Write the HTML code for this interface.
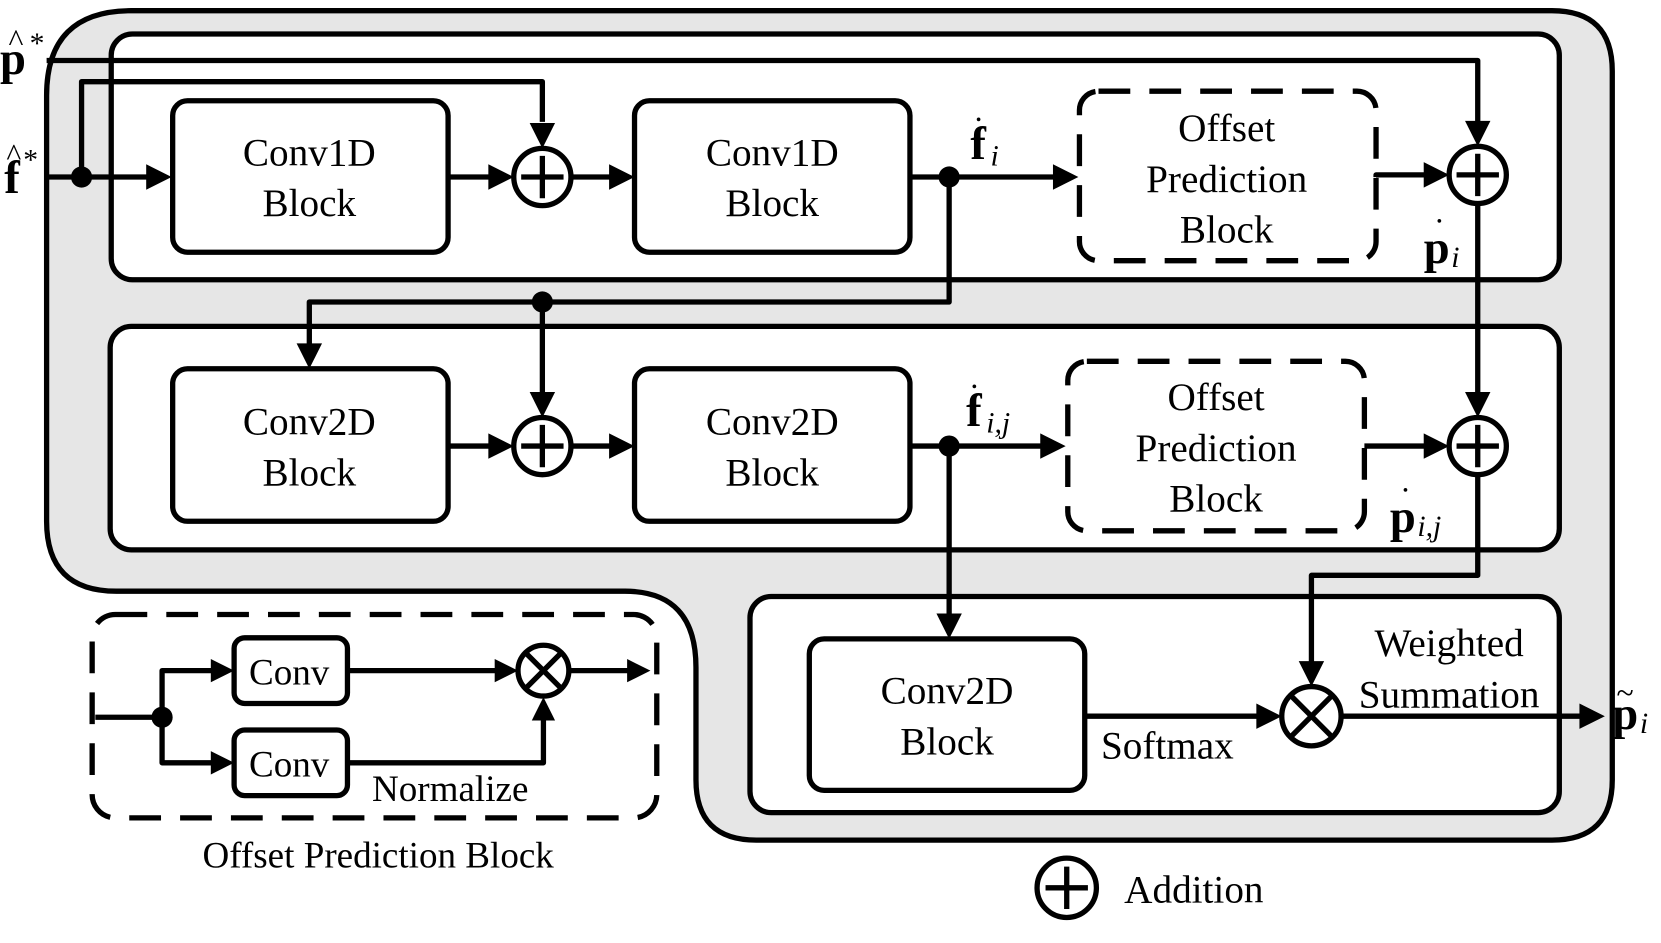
<!DOCTYPE html>
<html><head><meta charset="utf-8"><style>
html,body{margin:0;padding:0;background:#fff;}
svg{display:block}
text{font-family:"Liberation Serif",serif;fill:#000}
</style></head><body>
<svg width="1661" height="943" viewBox="0 0 1568 890" xmlns="http://www.w3.org/2000/svg">
<g stroke="#000" stroke-width="5" fill="none" stroke-linejoin="round">
<path d="M44,90 Q44,10 124,10 H1465 Q1522,10 1522,67 V736 Q1522,793 1465,793 H714 Q657,793 657,736 V630 Q657,558 590,558 H110 Q44,558 44,492 Z" fill="#e6e6e6"/>
<rect x="105" y="32" width="1367" height="232" rx="20" fill="#fff"/>
<rect x="104" y="308" width="1368" height="211" rx="20" fill="#fff"/>
<rect x="708" y="563" width="764" height="204" rx="20" fill="#fff"/>
<rect x="163" y="95" width="260" height="143" rx="14" fill="#fff"/>
<rect x="599" y="95" width="260" height="143" rx="14" fill="#fff"/>
<rect x="163" y="348" width="260" height="144" rx="14" fill="#fff"/>
<rect x="599" y="348" width="260" height="144" rx="14" fill="#fff"/>
<rect x="764" y="603" width="260" height="143" rx="14" fill="#fff"/>
<rect x="1019" y="86" width="280" height="160" rx="18" stroke-dasharray="30,18"/>
<rect x="1008" y="341" width="280" height="160" rx="18" stroke-dasharray="30,18"/>
<rect x="87" y="580" width="533" height="192" rx="22" stroke-dasharray="30,18"/>
<rect x="221" y="602" width="107" height="62" rx="10" fill="#fff"/>
<rect x="221" y="689" width="107" height="62" rx="10" fill="#fff"/>
<polyline points="44,57 1395,57 1395,115"/>
<polyline points="44,167 140,167"/>
<polyline points="77,167 77,77 512,77 512,115"/>
<line x1="423" y1="167" x2="464" y2="167"/>
<line x1="540" y1="167" x2="580" y2="167"/>
<line x1="859" y1="167" x2="998" y2="167"/>
<polyline points="1299,167 1299,165 1347,165"/>
<line x1="1395" y1="193" x2="1395" y2="373"/>
<polyline points="896,167 896,285 292,285 292,328"/>
<line x1="512" y1="285" x2="512" y2="373"/>
<line x1="423" y1="421" x2="464" y2="421"/>
<line x1="540" y1="421" x2="580" y2="421"/>
<line x1="859" y1="421" x2="986" y2="421"/>
<polyline points="1288,421 1347,421"/>
<polyline points="1395,449 1395,543 1238,543 1238,628"/>
<line x1="896" y1="421" x2="896" y2="583"/>
<line x1="1024" y1="676" x2="1190" y2="676"/>
<line x1="1266" y1="676" x2="1495" y2="676"/>
<polyline points="90,677 153,677"/>
<polyline points="153,677 153,633 202,633"/>
<polyline points="153,677 153,720 202,720"/>
<line x1="328" y1="633" x2="468" y2="633"/>
<line x1="538" y1="633" x2="594" y2="633"/>
<polyline points="328,720 513,720 513,678"/>
<circle cx="512" cy="167" r="27" fill="#fff"/>
<circle cx="1395" cy="165" r="27" fill="#fff"/>
<circle cx="512" cy="421" r="27" fill="#fff"/>
<circle cx="1395" cy="421" r="27" fill="#fff"/>
<circle cx="1238" cy="676" r="28" fill="#fff"/>
<circle cx="513" cy="633" r="24" fill="#fff"/>
<circle cx="1007" cy="838" r="28" fill="#fff"/>
<path d="M512,147V187M492,167H532 M1395,145V185M1375,165H1415 M512,401V441M492,421H532 M1395,401V441M1375,421H1415 M1007,818V858M987,838H1027"/>
<path d="M1218,656L1258,696M1258,656L1218,696 M496,616L530,650M530,616L496,650"/>
</g>
<g fill="#000">
<circle cx="77" cy="167" r="10"/><circle cx="896" cy="167" r="10"/><circle cx="512" cy="285" r="10"/>
<circle cx="896" cy="421" r="10"/><circle cx="153" cy="677" r="10"/>
<path d="M162,167l-24,-12v24z"/>
<path d="M485,167l-24,-12v24z"/>
<path d="M599,167l-24,-12v24z"/>
<path d="M1018,167l-24,-12v24z"/>
<path d="M1368,165l-24,-12v24z"/>
<path d="M512,140l-12,-24h24z"/>
<path d="M1395,138l-12,-24h24z"/>
<path d="M292,348l-12,-24h24z"/>
<path d="M512,394l-12,-24h24z"/>
<path d="M1395,394l-12,-24h24z"/>
<path d="M485,421l-24,-12v24z"/>
<path d="M599,421l-24,-12v24z"/>
<path d="M1006,421l-24,-12v24z"/>
<path d="M1368,421l-24,-12v24z"/>
<path d="M1238,648l-12,-24h24z"/>
<path d="M896,603l-12,-24h24z"/>
<path d="M1210,676l-24,-12v24z"/>
<path d="M1515,676l-24,-12v24z"/>
<path d="M221,633l-22,-11v22z"/>
<path d="M221,720l-22,-11v22z"/>
<path d="M489,633l-22,-11v22z"/>
<path d="M614,633l-22,-11v22z"/>
<path d="M513,658l-11,22h22z"/>
</g>
<g font-size="37" text-anchor="middle">
<text x="292" y="156">Conv1D</text><text x="292" y="204">Block</text>
<text x="729" y="156">Conv1D</text><text x="729" y="204">Block</text>
<text x="292" y="410">Conv2D</text><text x="292" y="458">Block</text>
<text x="729" y="410">Conv2D</text><text x="729" y="458">Block</text>
<text x="894" y="664">Conv2D</text><text x="894" y="712">Block</text>
<text x="1158" y="133">Offset</text><text x="1158" y="181">Prediction</text><text x="1158" y="229">Block</text>
<text x="1148" y="387">Offset</text><text x="1148" y="435">Prediction</text><text x="1148" y="483">Block</text>
<text x="1368" y="619">Weighted</text><text x="1368" y="668">Summation</text>
<text x="1102" y="716">Softmax</text>
<text x="273" y="646" font-size="35">Conv</text>
<text x="273" y="733" font-size="35">Conv</text>
<text x="425" y="756" font-size="35">Normalize</text>
<text x="357" y="819" font-size="35">Offset Prediction Block</text>
<text x="1127" y="852" font-size="37">Addition</text>
</g>
<g font-size="44">
<text x="0" y="70" font-weight="bold">p</text><text x="8" y="48" font-size="30">^</text><text x="28" y="50" font-size="28">*</text>
<text x="4" y="182" font-weight="bold">f</text><text x="6" y="156" font-size="30">^</text><text x="22" y="160" font-size="28">*</text>
<text x="916" y="150" font-weight="bold">f</text><text x="920" y="114" font-size="30">.</text><text x="935" y="156" font-size="28" font-style="italic">i</text>
<text x="912" y="402" font-weight="bold">f</text><text x="916" y="366" font-size="30">.</text><text x="931" y="408" font-size="28" font-style="italic">i,j</text>
<text x="1344" y="248" font-weight="bold">p</text><text x="1355" y="210" font-size="30">.</text><text x="1370" y="252" font-size="28" font-style="italic">i</text>
<text x="1312" y="502" font-weight="bold">p</text><text x="1323" y="464" font-size="30">.</text><text x="1338" y="506" font-size="28" font-style="italic">i,j</text>
<text x="1522" y="688" font-weight="bold">p</text><text x="1526" y="664" font-size="30">~</text><text x="1548" y="692" font-size="28" font-style="italic">i</text>
</g>
</svg>
</body></html>
